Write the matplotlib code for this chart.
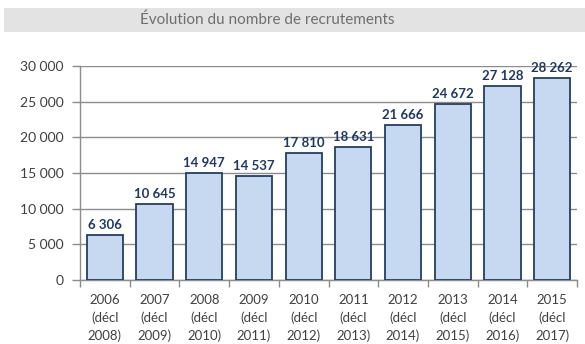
import matplotlib.pyplot as plt
from matplotlib.patches import Rectangle
from matplotlib.ticker import FixedLocator, FuncFormatter

# Recruitment counts per campaign year
years = ['2006', '2007', '2008', '2009', '2010', '2011', '2012', '2013', '2014', '2015']
decl = ['2008', '2009', '2010', '2011', '2012', '2013', '2014', '2015', '2016', '2017']
recrutements = [6306, 10645, 14947, 14537, 17810, 18631, 21666, 24672, 27128, 28262]
y_ticks = [0, 5000, 10000, 15000, 20000, 25000, 30000]

plt.rcParams['font.family'] = ['Lato', 'DejaVu Sans']


def fmt_fr(v):
    return f"{int(v):,}".replace(',', ' ')


fig = plt.figure(figsize=(5.85, 3.44), dpi=100)

# Title band
fig.patches.append(Rectangle((4 / 585, 1 - 32 / 344), 581 / 585, 24 / 344,
                             transform=fig.transFigure, facecolor='#e3e3e3',
                             edgecolor='none', zorder=0))
fig.text(0.456, 1 - 20 / 344, 'Évolution du nombre de recrutements',
         ha='center', va='center', fontsize=11, color='#6e6e6e')

ax = fig.add_axes([80 / 585, 1 - 280 / 344, 497 / 585, 214 / 344])
x = list(range(len(years)))
bars = ax.bar(x, recrutements, width=0.73, color='#c6d9f0', edgecolor='#243f60',
              linewidth=1.3, zorder=3)

for xi, v in zip(x, recrutements):
    ax.annotate(fmt_fr(v), (xi, v), xytext=(0, 3), textcoords='offset points',
                ha='center', va='bottom', fontsize=9.5, fontweight='bold',
                color='#1f3864')

ax.set_xlim(-0.5, len(years) - 0.5)
ax.set_ylim(0, 30000)
ax.set_yticks(y_ticks)
ax.yaxis.set_major_formatter(FuncFormatter(lambda v, p: fmt_fr(v)))
ax.grid(axis='y', color='#8c8c8c', linewidth=1, zorder=0)

ax.set_xticks(x)
ax.set_xticklabels([f"{y}\n(décl\n{d})" for y, d in zip(years, decl)],
                   fontsize=9.5, color='#404040', linespacing=1.5)
ax.xaxis.set_minor_locator(FixedLocator([i - 0.5 for i in range(len(years) + 1)]))
ax.tick_params(axis='x', which='major', length=0, pad=10)
ax.tick_params(axis='x', which='minor', length=5, color='#8c8c8c', width=1)
ax.tick_params(axis='y', length=6, color='#8c8c8c', width=1, labelsize=10,
               labelcolor='#404040', pad=6)

for side in ['top', 'right']:
    ax.spines[side].set_visible(False)
for side in ['left', 'bottom']:
    ax.spines[side].set_color('#8c8c8c')
    ax.spines[side].set_linewidth(1)

fig.savefig('out.png', dpi=100)
